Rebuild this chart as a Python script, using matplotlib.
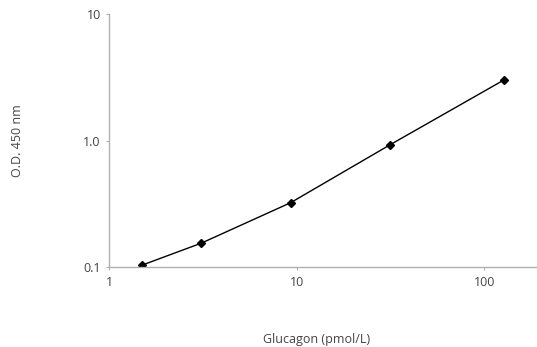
import matplotlib.pyplot as plt
from matplotlib.ticker import FixedLocator, FixedFormatter, NullLocator

plt.rcParams['font.family'] = ['Open Sans', 'DejaVu Sans']

# Standard curve readings
glucagon = [1.5, 3.1, 9.3, 31.5, 127]
od450 = [0.104, 0.155, 0.324, 0.929, 3.01]

x_ticks = [1, 10, 100]
x_labels = ['1', '10', '100']
y_ticks = [0.1, 1.0, 10]
y_labels = ['0.1', '1.0', '10']

fig = plt.figure(figsize=(5.37, 3.47), dpi=100)
ax = fig.add_axes([109 / 537, 1 - 267.3 / 347, 427 / 537, 253.3 / 347])

ax.plot(glucagon, od450, color='black', lw=1.0, marker='D', ms=4.5,
        markerfacecolor='black', markeredgecolor='black')

ax.set_xscale('log')
ax.set_yscale('log')
ax.set_xlim(1, 10 ** ((536 - 108.7) / 187.8))
ax.set_ylim(0.1, 10)

ax.xaxis.set_major_locator(FixedLocator(x_ticks))
ax.xaxis.set_major_formatter(FixedFormatter(x_labels))
ax.xaxis.set_minor_locator(NullLocator())
ax.yaxis.set_major_locator(FixedLocator(y_ticks))
ax.yaxis.set_major_formatter(FixedFormatter(y_labels))
ax.yaxis.set_minor_locator(NullLocator())

for s in ['top', 'right']:
    ax.spines[s].set_visible(False)
for s in ['left', 'bottom']:
    ax.spines[s].set_color('#b0b0b0')
    ax.spines[s].set_linewidth(1.0)

ax.tick_params(axis='both', length=2.5, width=0.8, color='#b0b0b0',
               labelsize=9, labelcolor='#444444', pad=3.5)

ax.set_xlabel('Glucagon (pmol/L)', fontsize=9, color='#444444')
ax.set_ylabel('O.D. 450 nm', fontsize=9, color='#444444')
ax.xaxis.set_label_coords(0.485, -0.258)
ax.yaxis.set_label_coords(-0.2, 0.5)

fig.savefig('out.png', dpi=100)
